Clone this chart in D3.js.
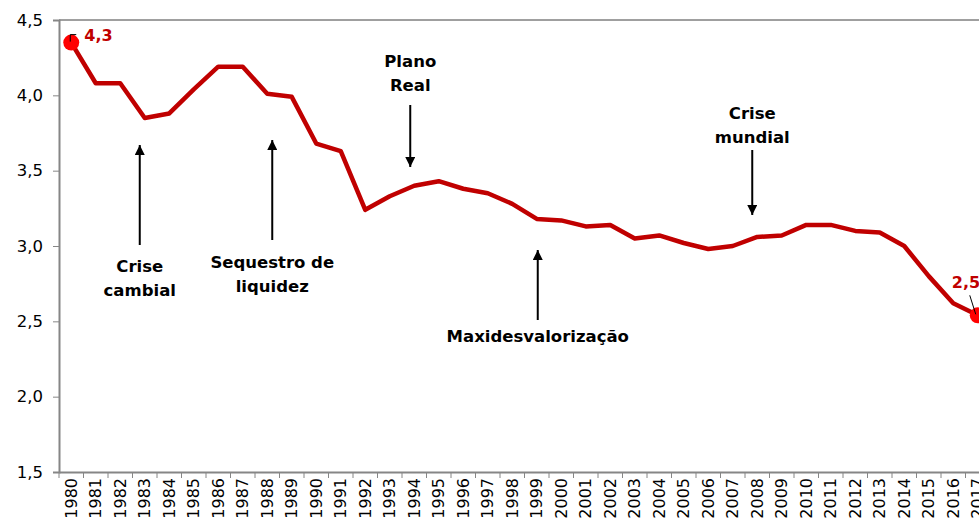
<!DOCTYPE html>
<html>
<head>
<meta charset="utf-8">
<script src="https://cdn.jsdelivr.net/npm/d3@7"></script>
<style>
  body { margin: 0; background: #fff; }
  svg { display: block; font-family: "DejaVu Sans", Verdana, sans-serif; }
  .note { font-weight: bold; font-size: 16.5px; fill: #000; }
</style>
</head>
<body>
<svg width="979" height="523"></svg>
<script>
var years = d3.range(1980, 2018).map(String);
var values = [4.35, 4.08, 4.08, 3.85, 3.88, 4.04, 4.19, 4.19, 4.01, 3.99,
              3.68, 3.63, 3.24, 3.33, 3.40, 3.43, 3.38, 3.35, 3.28, 3.18,
              3.17, 3.13, 3.14, 3.05, 3.07, 3.02, 2.98, 3.00, 3.06, 3.07,
              3.14, 3.14, 3.10, 3.09, 3.00, 2.80, 2.62, 2.54];
var yTicks = [1.5, 2.0, 2.5, 3.0, 3.5, 4.0, 4.5];
// anotações: ano, texto, direção da seta
var notes = [
  {year: "1983", lines: ["Crise", "cambial"], y1: 245, y2: 145, ty: 267, dx: -5},
  {year: "1988", lines: ["Sequestro de", "liquidez"], y1: 240, y2: 140, ty: 263, dx: 5},
  {year: "1994", lines: ["Plano", "Real"], y1: 105, y2: 167, ty: 62, dx: -4},
  {year: "1999", lines: ["Maxidesvalorização"], y1: 320, y2: 250, ty: 337, dx: 1},
  {year: "2008", lines: ["Crise", "mundial"], y1: 150, y2: 215, ty: 114, dx: -5}
];

var svg = d3.select("svg");
var mLeft = 59, mTop = 20, mBottom = 472, mRight = 990;

var x = d3.scaleBand().domain(years).range([mLeft, mRight]);
var y = d3.scaleLinear().domain([1.5, 4.5]).range([mBottom, mTop]);
var fmt = function(d) { return d3.format(".1f")(d).replace(".", ","); };

// borda superior
svg.append("line")
  .attr("x1", mLeft).attr("x2", mRight)
  .attr("y1", mTop).attr("y2", mTop)
  .attr("stroke", "#404040").attr("stroke-width", 1);

var yAxis = svg.append("g")
  .attr("transform", "translate(" + mLeft + ",0)")
  .call(d3.axisLeft(y).tickValues(yTicks).tickSize(6).tickPadding(10).tickFormat(fmt));
yAxis.selectAll("text").attr("font-size", 16.5).attr("fill", "#000")
  .attr("font-family", "DejaVu Sans");
yAxis.selectAll("line").attr("stroke", "#868686");
yAxis.select(".domain").attr("stroke", "#868686").attr("stroke-width", 2);

var xAxis = svg.append("g")
  .attr("transform", "translate(0," + mBottom + ")")
  .call(d3.axisBottom(x).tickSize(0).tickPadding(0));
xAxis.select(".domain").attr("stroke", "#868686").attr("stroke-width", 2);
xAxis.selectAll("text")
  .attr("font-size", 16).attr("fill", "#000").attr("font-family", "DejaVu Sans")
  .attr("text-anchor", "end")
  .attr("transform", "rotate(-90)")
  .attr("x", -6).attr("y", 0).attr("dy", "0.35em");
// marcas entre categorias
xAxis.selectAll(".sep")
  .data(years)
  .enter().append("line")
  .attr("x1", function(d) { return x(d); }).attr("x2", function(d) { return x(d); })
  .attr("y1", 0).attr("y2", 6)
  .attr("stroke", "#868686");

var line = d3.line()
  .x(function(d, i) { return x(years[i]) + x.bandwidth() / 2; })
  .y(function(d) { return y(d); });

svg.append("path")
  .datum(values)
  .attr("fill", "none")
  .attr("stroke", "#c00000")
  .attr("stroke-width", 4.5)
  .attr("stroke-linejoin", "round")
  .attr("d", line);

// pontos extremos
var ends = [0, values.length - 1];
svg.selectAll(".end")
  .data(ends)
  .enter().append("circle")
  .attr("cx", function(i) { return x(years[i]) + x.bandwidth() / 2; })
  .attr("cy", function(i) { return y(values[i]); })
  .attr("r", 8)
  .attr("fill", "#ff0000");

// rótulos
var cx0 = x(years[0]) + x.bandwidth() / 2, cy0 = y(values[0]);
svg.append("path")
  .attr("d", "M" + (cx0 - 1) + "," + (cy0 - 1) + "V" + (cy0 - 8) + "H" + (cx0 + 5))
  .attr("fill", "none").attr("stroke", "#000").attr("stroke-width", 1);
svg.append("text")
  .attr("x", cx0 + 13).attr("y", cy0 - 2)
  .attr("font-size", 16).attr("font-weight", "bold").attr("fill", "#c00000")
  .text(fmt(4.3));

var n = values.length - 1;
var cx1 = x(years[n]) + x.bandwidth() / 2, cy1 = y(values[n]);
svg.append("line")
  .attr("x1", cx1 - 2).attr("y1", cy1 - 1)
  .attr("x2", cx1 - 8).attr("y2", cy1 - 20)
  .attr("stroke", "#000").attr("stroke-width", 1);
svg.append("text")
  .attr("x", cx1 - 26).attr("y", cy1 - 27)
  .attr("font-size", 16).attr("font-weight", "bold").attr("fill", "#c00000")
  .text(fmt(2.5));

// setas
svg.append("defs").append("marker")
  .attr("id", "arr")
  .attr("viewBox", "0 0 10 10")
  .attr("refX", 10).attr("refY", 5)
  .attr("markerWidth", 5).attr("markerHeight", 5)
  .attr("orient", "auto")
  .append("path").attr("d", "M0,0L10,5L0,10z").attr("fill", "#000");

notes.forEach(function(nt) {
  var ax = x(nt.year) + x.bandwidth() / 2 + nt.dx;
  svg.append("line")
    .attr("x1", ax).attr("x2", ax)
    .attr("y1", nt.y1).attr("y2", nt.y2)
    .attr("stroke", "#000").attr("stroke-width", 2)
    .attr("marker-end", "url(#arr)");
  var t = svg.append("text").attr("class", "note")
    .attr("text-anchor", "middle")
    .attr("x", ax).attr("y", nt.ty + 5);
  nt.lines.forEach(function(s, i) {
    t.append("tspan").attr("x", ax).attr("dy", i ? 24 : 0).text(s);
  });
});
</script>
</body>
</html>
